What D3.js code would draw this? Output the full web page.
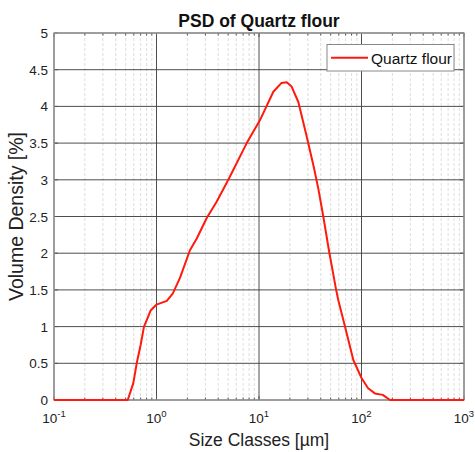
<!DOCTYPE html>
<html>
<head>
<meta charset="utf-8">
<script src="https://cdn.jsdelivr.net/npm/d3@7"></script>
<style>
  html, body { margin: 0; padding: 0; background: #fff; }
  svg { display: block; font-family: "Liberation Sans", Arial, sans-serif; }
</style>
</head>
<body>
<svg id="chart" width="475" height="452"></svg>
<script>
// Particle size classes [µm] and volume density [%]
const sizeClasses = [0.1, 0.2, 0.3, 0.4, 0.524, 0.594, 0.641, 0.70, 0.755, 0.82, 0.877, 1.0, 1.26, 1.44, 1.69,
  2.12, 2.47, 3.09, 3.86, 5.02, 7.59, 10.2, 13.8, 16.6, 18.6, 20.8, 24.2, 29.2, 34.4, 37.9, 42.4, 48.5, 56.4,
  59.4, 69, 83.2, 100, 116, 135, 161, 190, 300, 500, 1000];
const volumeDensity = [0, 0, 0, 0, 0, 0.23, 0.5, 0.75, 1.0, 1.12, 1.22, 1.30, 1.35, 1.45, 1.66,
  2.04, 2.20, 2.48, 2.70, 3.0, 3.50, 3.81, 4.20, 4.32, 4.33, 4.27, 4.06, 3.59, 3.16, 2.88, 2.50, 2.01, 1.51,
  1.36, 1.0, 0.545, 0.30, 0.16, 0.09, 0.07, 0, 0, 0, 0];
const seriesName = "Quartz flour";
const yTicks = [0, 0.5, 1, 1.5, 2, 2.5, 3, 3.5, 4, 4.5, 5];
const xDecades = [-1, 0, 1, 2, 3];

const svg = d3.select("#chart");
const m = { left: 54, right: 464, top: 33, bottom: 400 };

const x = d3.scaleLog().domain([0.1, 1000]).range([m.left, m.right]);
const y = d3.scaleLinear().domain([0, 5]).range([m.bottom, m.top]);

// minor decade subdivisions
const minorTicks = [];
for (let e = -1; e < 3; e++) for (let k = 2; k <= 9; k++) minorTicks.push(k * Math.pow(10, e));
const majorTicks = xDecades.map(e => Math.pow(10, e));

const g = svg.append("g");

// minor vertical grid
g.selectAll("line.minor").data(minorTicks).join("line")
  .attr("x1", d => x(d)).attr("x2", d => x(d))
  .attr("y1", m.top).attr("y2", m.bottom)
  .attr("stroke", "#d4d4d4").attr("stroke-width", 0.8)
  .attr("stroke-dasharray", "3,2");

// major grid
g.selectAll("line.hmaj").data(yTicks).join("line")
  .attr("x1", m.left).attr("x2", m.right)
  .attr("y1", d => y(d)).attr("y2", d => y(d))
  .attr("stroke", "#3a3a3a").attr("stroke-width", 0.9);
g.selectAll("line.vmaj").data(majorTicks).join("line")
  .attr("x1", d => x(d)).attr("x2", d => x(d))
  .attr("y1", m.top).attr("y2", m.bottom)
  .attr("stroke", "#3a3a3a").attr("stroke-width", 0.9);

// tick marks on all four sides (inward)
const tickCol = "#555";
minorTicks.forEach(t => {
  g.append("line").attr("x1", x(t)).attr("x2", x(t)).attr("y1", m.bottom).attr("y2", m.bottom - 2.5).attr("stroke", tickCol);
  g.append("line").attr("x1", x(t)).attr("x2", x(t)).attr("y1", m.top).attr("y2", m.top + 2.5).attr("stroke", tickCol);
});
majorTicks.forEach(t => {
  g.append("line").attr("x1", x(t)).attr("x2", x(t)).attr("y1", m.bottom).attr("y2", m.bottom - 4).attr("stroke", tickCol);
  g.append("line").attr("x1", x(t)).attr("x2", x(t)).attr("y1", m.top).attr("y2", m.top + 4).attr("stroke", tickCol);
});
yTicks.forEach(t => {
  g.append("line").attr("x1", m.left).attr("x2", m.left + 4).attr("y1", y(t)).attr("y2", y(t)).attr("stroke", tickCol);
  g.append("line").attr("x1", m.right).attr("x2", m.right - 4).attr("y1", y(t)).attr("y2", y(t)).attr("stroke", tickCol);
});

// axes box
g.append("rect").attr("x", m.left).attr("y", m.top)
  .attr("width", m.right - m.left).attr("height", m.bottom - m.top)
  .attr("fill", "none").attr("stroke", "#999").attr("stroke-width", 1.3);

// curve
const line = d3.line().x((d, i) => x(sizeClasses[i])).y(d => y(d));
g.append("path").datum(volumeDensity)
  .attr("d", line).attr("fill", "none")
  .attr("stroke", "#ff1a0d").attr("stroke-width", 2).attr("stroke-linejoin", "round");

// y tick labels
g.selectAll("text.yt").data(yTicks).join("text")
  .attr("x", 48).attr("y", d => y(d) + 5)
  .attr("text-anchor", "end").attr("font-size", 13.5).attr("fill", "#222")
  .text(d => d);

// x tick labels as powers of ten
xDecades.forEach(e => {
  const t = g.append("text").attr("x", x(Math.pow(10, e))).attr("y", 423)
    .attr("text-anchor", "middle").attr("font-size", 13.5).attr("fill", "#222");
  t.append("tspan").text("10");
  t.append("tspan").attr("dy", -6).attr("font-size", 9.5).text(e);
});

// axis titles
g.append("text").attr("x", (m.left + m.right) / 2).attr("y", 446)
  .attr("text-anchor", "middle").attr("font-size", 17.5).attr("fill", "#222")
  .text("Size Classes [µm]");
g.append("text").attr("transform", `translate(23,${(m.top + m.bottom) / 2}) rotate(-90)`)
  .attr("text-anchor", "middle").attr("font-size", 19.5).attr("fill", "#222")
  .text("Volume Density [%]");

// title
g.append("text").attr("x", (m.left + m.right) / 2).attr("y", 27)
  .attr("text-anchor", "middle").attr("font-size", 17.5).attr("font-weight", "bold").attr("fill", "#111")
  .text("PSD of Quartz flour");

// legend
const lg = g.append("g");
lg.append("rect").attr("x", 327).attr("y", 44.5).attr("width", 127).attr("height", 26.5)
  .attr("fill", "#fff").attr("stroke", "#888").attr("stroke-width", 1);
lg.append("line").attr("x1", 331).attr("x2", 368).attr("y1", 57.7).attr("y2", 57.7)
  .attr("stroke", "#ff1a0d").attr("stroke-width", 2);
lg.append("text").attr("x", 371).attr("y", 64).attr("font-size", 15.5).attr("fill", "#111")
  .text(seriesName);
</script>
</body>
</html>
